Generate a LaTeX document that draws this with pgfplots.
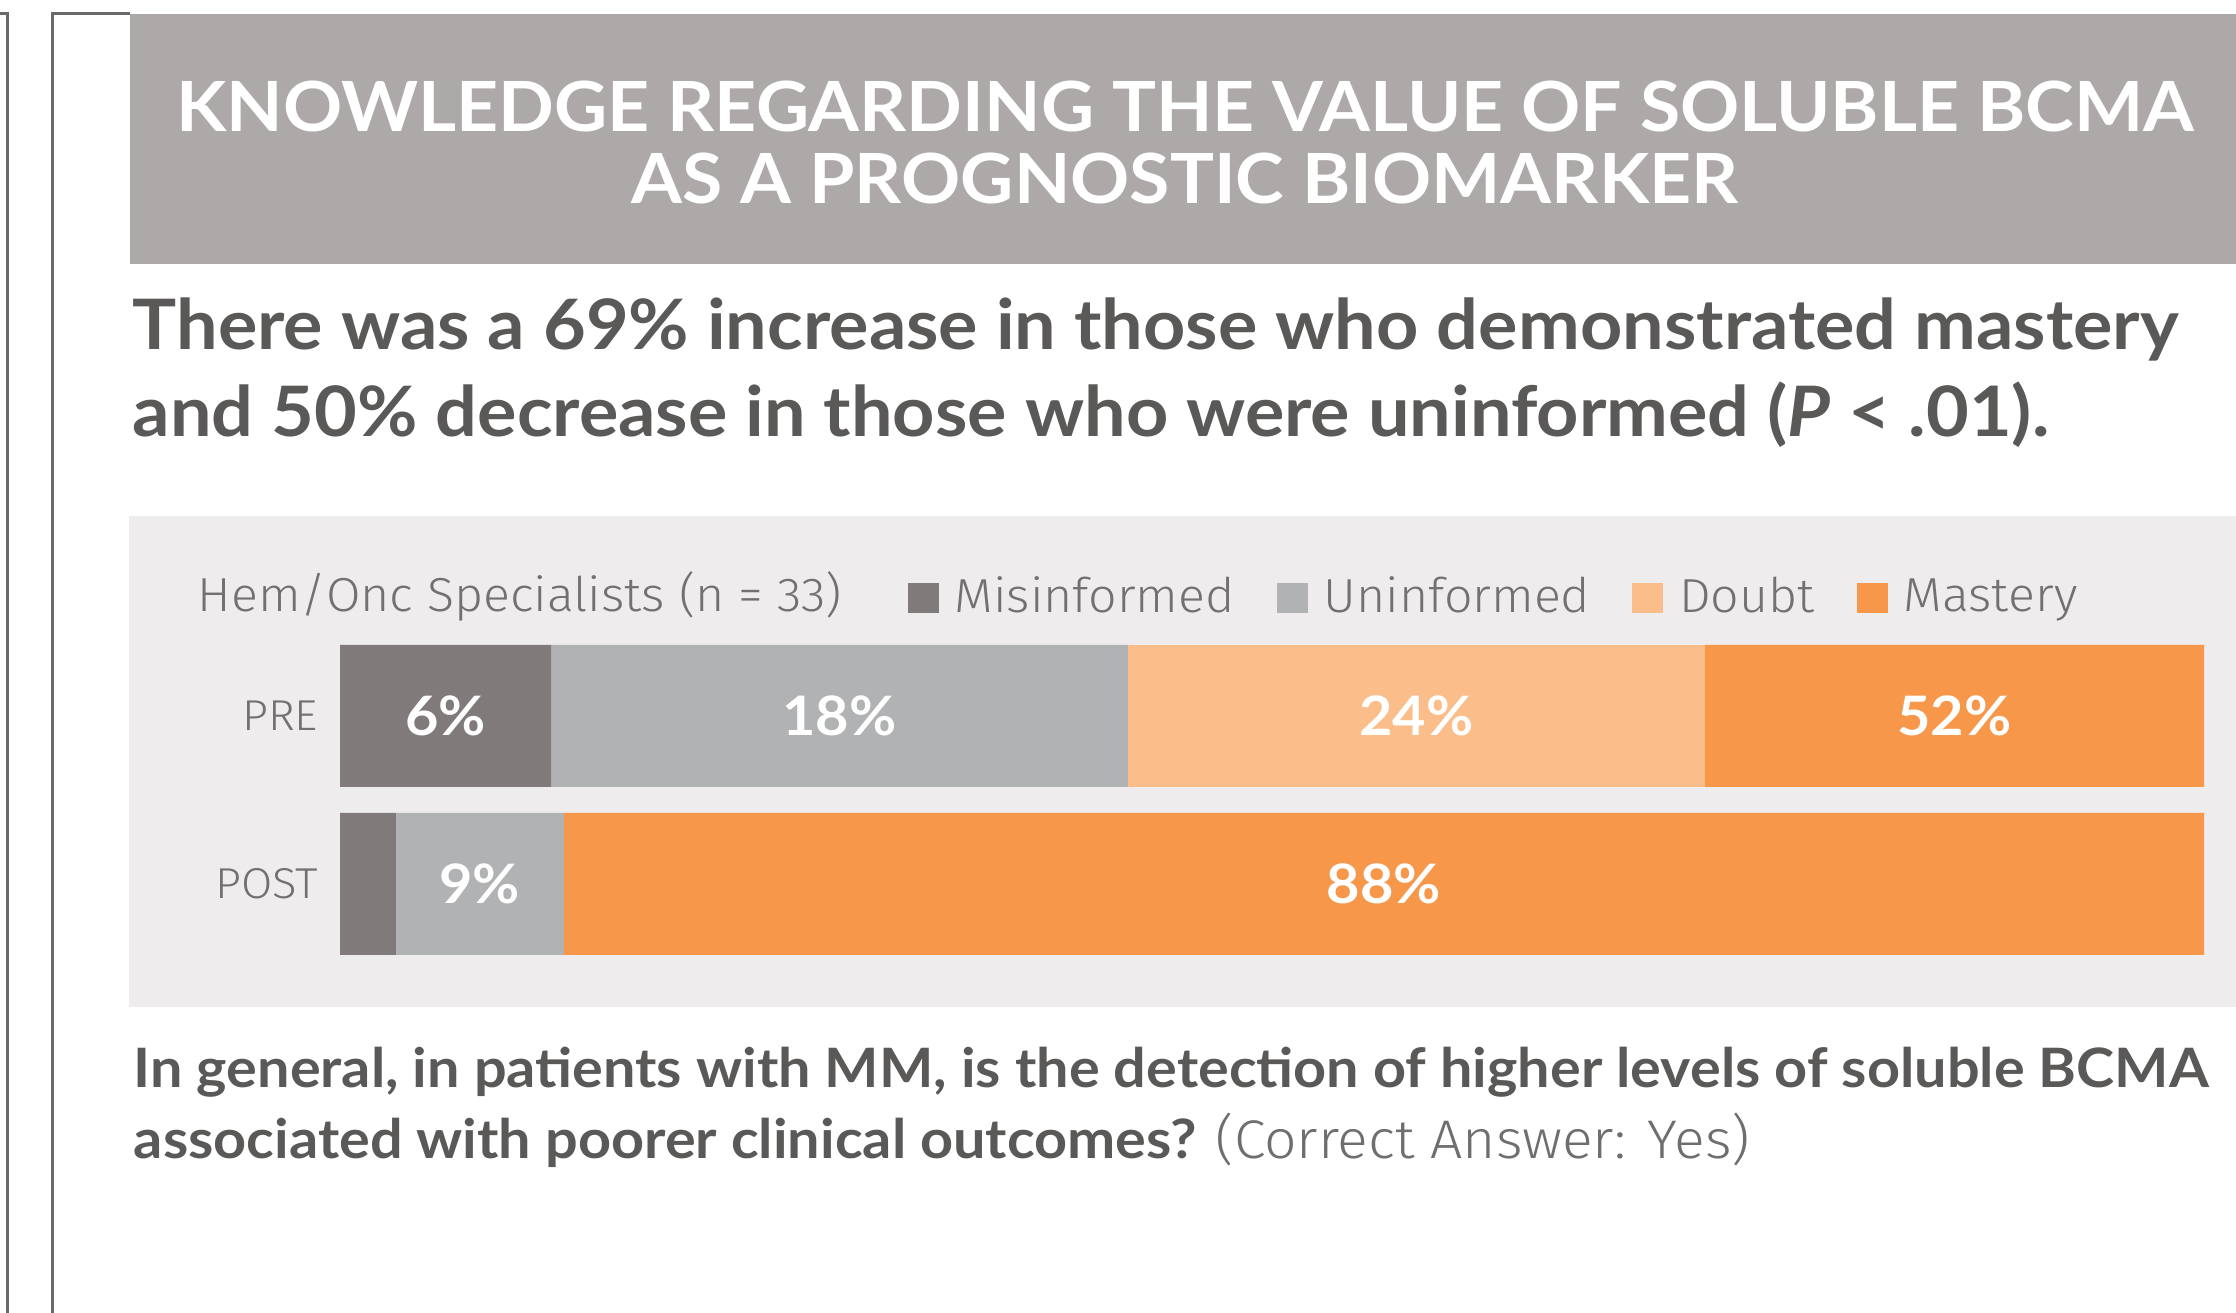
\documentclass[border=0pt]{standalone}
\usepackage{pgfplots}
\pgfplotsset{compat=1.18}
\usepackage{pgfplotstable}
\usepackage{fontspec}
\setmainfont{Lato}[FakeStretch=1.06]
\IfFontExistsTF{Fira Sans Light}
  {\newfontfamily\lightfont{Fira Sans Light}[FakeStretch=1.05]}
  {\newfontfamily\lightfont{Lato}[FakeStretch=1.06]}
\definecolor{titlebg}{HTML}{ADA9A8}
\definecolor{panelbg}{HTML}{EEECED}
\definecolor{cMis}{HTML}{807B7A}
\definecolor{cUn}{HTML}{B0B2B4}
\definecolor{cDou}{HTML}{FBBE8B}
\definecolor{cMas}{HTML}{F6974A}
\definecolor{darktext}{HTML}{5A5958}
\definecolor{legtext}{HTML}{73706F}
\definecolor{lighttext}{HTML}{6E6E70}
\definecolor{framecol}{HTML}{6A6A6A}

% widths of the segments as drawn (percent of bar length) and printed labels
\pgfplotstableread{
y w lab
1 11.32 6\%
0 3.00 {}
}\tabMis
\pgfplotstableread{
y w lab
1 30.95 18\%
0 9.01 9\%
}\tabUn
\pgfplotstableread{
y w lab
1 30.95 24\%
0 0 {}
}\tabDou
\pgfplotstableread{
y w lab
1 26.78 52\%
0 87.99 88\%
}\tabMas

\pgfplotsset{sq/.style={legend image code/.code={\fill[##1,draw=none] (0pt,-3.75pt) rectangle (7.75pt,3.75pt);}}}

\begin{document}
\begin{tikzpicture}
\begin{scope}[x=0.25pt,y=-0.25pt]
\path[use as bounding box] (0,0) rectangle (2236,1313);
\draw[framecol, line width=0.75pt] (0,14) -- (7,14) -- (7,1313);
\draw[framecol, line width=0.75pt] (130,14) -- (52,14) -- (52,1313);
\fill[titlebg] (130,14) rectangle (2236,264);
\fill[panelbg] (129,516) rectangle (2236,1007);
\node[anchor=base, inner sep=0pt, text=white, font=\fontsize{17.3pt}{20pt}\selectfont\bfseries] at (1185,132) {KNOWLEDGE REGARDING THE VALUE OF SOLUBLE BCMA};
\node[anchor=base, inner sep=0pt, text=white, font=\fontsize{17.3pt}{20pt}\selectfont\bfseries] at (1185,204) {AS A PROGNOSTIC BIOMARKER};
\node[anchor=base west, inner sep=0pt, text=darktext, font=\fontsize{17.4pt}{20pt}\selectfont\bfseries] at (132,350) {There was a 69\% increase in those who demonstrated mastery};
\node[anchor=base west, inner sep=0pt, text=darktext, font=\fontsize{17.4pt}{20pt}\selectfont\bfseries] at (132,437) {and 50\% decrease in those who were uninformed (\textit{P} < .01).};
\node[anchor=base west, inner sep=0pt, text=legtext, font=\fontsize{11.93pt}{14pt}\lightfont] at (197,612) {Hem/Onc Specialists (n = 33)};
\node[anchor=base west, inner sep=0pt, text=darktext, font=\fontsize{13.58pt}{16pt}\selectfont\bfseries] at (133,1088) {In general, in patients with MM, is the detection of higher levels of soluble BCMA};
\node[anchor=base west, inner sep=0pt, text=darktext, font=\fontsize{13.58pt}{16pt}\selectfont\bfseries] at (133,1158) {associated with poorer clinical outcomes? {\fontsize{13.6pt}{16pt}\lightfont\mdseries\color{lighttext}(Correct Answer: Yes)}};
\end{scope}
\begin{axis}[
  at={(85pt,-238.75pt)}, anchor=south west,
  scale only axis, width=466pt, height=77.5pt,
  xbar stacked, bar width=0.8452,
  xmin=0, xmax=100, ymin=-0.4226, ymax=1.4226,
  clip=false,
  axis line style={draw=none},
  xtick=\empty, ytick={0,1}, yticklabels={POST,PRE},
  major tick length=0pt,
  yticklabel style={font=\fontsize{10.8pt}{12pt}\lightfont, text=legtext, inner sep=0pt, xshift=-5.25pt},
  nodes near coords,
  point meta=explicit symbolic,
  every node near coord/.append style={anchor=center, inner sep=0pt, font=\fontsize{13.6pt}{15pt}\selectfont\bfseries, text=white},
  legend columns=4,
  legend cell align=left,
  legend style={at={(0.3042,1.1516)}, anchor=west, draw=none, fill=none, inner sep=0pt, font=\fontsize{11.93pt}{14pt}\lightfont, text=legtext, nodes={inner sep=0pt}, /tikz/every odd column/.append style={column sep=4pt}, /tikz/every even column/.append style={column sep=10.5pt}},
]
\addplot[fill=cMis, draw=none, sq] table[x=w, y=y, meta=lab] {\tabMis};
\addlegendentry{Misinformed}
\addplot[fill=cUn, draw=none, sq] table[x=w, y=y, meta=lab] {\tabUn};
\addlegendentry{Uninformed}
\addplot[fill=cDou, draw=none, sq] table[x=w, y=y, meta=lab] {\tabDou};
\addlegendentry{Doubt}
\addplot[fill=cMas, draw=none, sq] table[x=w, y=y, meta=lab] {\tabMas};
\addlegendentry{Mastery}
\end{axis}
\end{tikzpicture}
\end{document}
